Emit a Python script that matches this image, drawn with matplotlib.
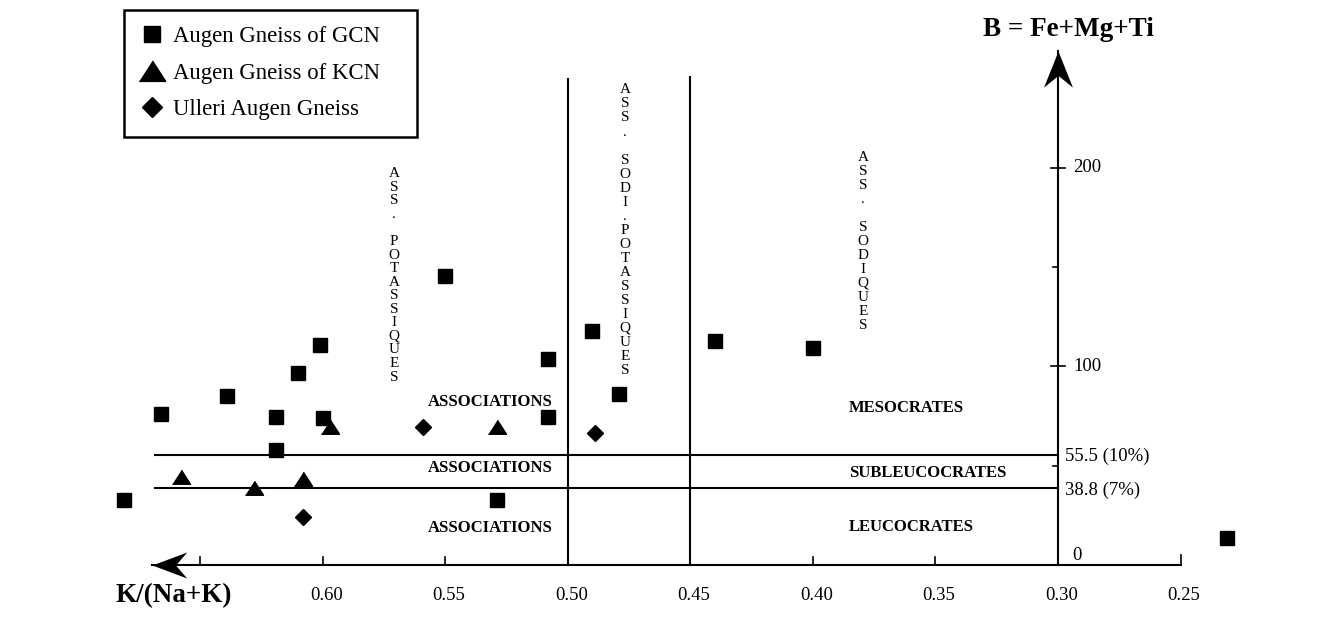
import matplotlib.pyplot as plt
from matplotlib.lines import Line2D

plt.rcParams['font.family'] = ['Liberation Serif', 'DejaVu Serif']

# K/(Na+K) and B = Fe+Mg+Ti for each group
gcn_k = [0.550, 0.601, 0.610, 0.639, 0.666, 0.619, 0.600, 0.619, 0.681,
         0.490, 0.508, 0.479, 0.508, 0.529, 0.440, 0.400, 0.231]
gcn_b = [145.6, 110.8, 96.7, 85.1, 76.1, 74.6, 74.1, 57.9, 32.7,
         117.9, 103.8, 86.1, 74.6, 32.7, 112.8, 109.3, 13.6]
kcn_k = [0.597, 0.529, 0.658, 0.628, 0.608]
kcn_b = [69.5, 69.5, 44.3, 38.8, 43.3]
ulleri_k = [0.559, 0.489, 0.608]
ulleri_b = [69.5, 66.5, 24.2]

x_ticks = [0.65, 0.60, 0.55, 0.50, 0.45, 0.40, 0.35, 0.30, 0.25]
x_tick_labels = ['', '0.60', '0.55', '0.50', '0.45', '0.40', '0.35', '0.30', '0.25']
b_limits = [55.5, 38.8]
b_limit_labels = ['55.5 (10%)', '38.8 (7%)']

# flat triangle and swept-back arrow head as marker paths
tri = [(-1, -0.75), (1, -0.75), (0, 0.8)]
head_left = [(0, 0), (2, 0.75), (1.35, 0), (2, -0.75)]
head_up = [(0, 0), (0.8, -2), (0, -1.35), (-0.8, -2)]

fig = plt.figure(figsize=(13.44, 6.19), dpi=100)
ax = fig.add_axes([0, 0, 1, 1])
ax.set_xlim(0.7317, 0.1833)
ax.set_ylim(-27.2, 284.6)
ax.axis('off')

lw = 1.5
x_left = 0.6696
# axes
ax.plot([x_left, 0.25], [0, 0], color='k', lw=lw)
ax.plot([0.30, 0.30], [0, 259], color='k', lw=lw)
ax.plot([x_left], [0], marker=head_left, ms=50, color='k', mew=0)
ax.plot([0.30], [259], marker=head_up, ms=52, color='k', mew=0)

# x ticks (pointing up)
for t, lab in zip(x_ticks, x_tick_labels):
    if t != 0.30:
        ax.plot([t, t], [0, 5 if t == 0.25 else 3.8], color='k', lw=1.2)
    if lab:
        ax.annotate(lab, (t, -15.5), xytext=(2.5, 0), textcoords='offset points',
                    ha='center', va='center', fontsize=13.5)

# y ticks
for v in [100, 200]:
    ax.plot([0.3029, 0.2971], [v, v], color='k', lw=1.2)
    ax.text(0.2937, v, str(v), ha='left', va='center', fontsize=13.5)
for v in [50, 150]:
    ax.plot([0.302, 0.30], [v, v], color='k', lw=1.2)
ax.text(0.2943, 5, '0', ha='left', va='center', fontsize=13.5)

# field boundaries
ax.plot([0.50, 0.50], [0, 245], color='k', lw=lw)
ax.plot([0.45, 0.45], [0, 246], color='k', lw=lw)
for v, lab in zip(b_limits, b_limit_labels):
    ax.plot([0.6686, 0.30], [v, v], color='k', lw=lw)
    ax.text(0.2971, v - 1, lab, ha='left', va='center', fontsize=13.5)

# field names
bold = dict(fontsize=12, fontweight='bold', va='center')
for y in [82.1, 48.9, 18.6]:
    ax.text(0.5317, y, 'ASSOCIATIONS', ha='center', **bold)
ax.text(0.3853, 79.1, 'MESOCRATES', ha='left', **bold)
ax.text(0.3853, 46.5, 'SUBLEUCOCRATES', ha='left', **bold)
ax.text(0.3853, 19.0, 'LEUCOCRATES', ha='left', **bold)

# stacked vertical words
def stacked(x, y, word, step=10.1):
    for i, ch in enumerate(word):
        ax.annotate(ch, (x, y), xytext=(0, -i * step), textcoords='offset points',
                    ha='center', va='center', fontsize=11)

stacked(0.5709, 197.0, 'ASS. POTASSIQUES', step=9.75)
stacked(0.4767, 239.3, 'ASS. SODI.POTASSIQUES')
stacked(0.3796, 205.5, 'ASS. SODIQUES')

# axis titles
ax.text(0.6607, -15.5, 'K/(Na+K)', ha='center', va='center', fontsize=19.5, fontweight='bold')
ax.text(0.2959, 269.5, 'B = Fe+Mg+Ti', ha='center', va='center', fontsize=19.5, fontweight='bold')

# samples
ax.plot(gcn_k, gcn_b, ls='none', marker='s', ms=10, color='k')
ax.plot(kcn_k, kcn_b, ls='none', marker=tri, ms=13, color='k')
ax.plot(ulleri_k, ulleri_b, ls='none', marker='D', ms=8.5, color='k')

handles = [Line2D([], [], ls='none', marker='s', ms=12, color='k'),
           Line2D([], [], ls='none', marker=tri, ms=19, color='k'),
           Line2D([], [], ls='none', marker='D', ms=10, color='k')]
labels = ['Augen Gneiss of GCN', 'Augen Gneiss of KCN', 'Ulleri Augen Gneiss']
leg = ax.legend(handles, labels, loc='upper left',
                bbox_to_anchor=(124 / 1344, 1 - 132 / 619, 293 / 1344, 122 / 619),
                bbox_transform=fig.transFigure, mode='expand', fancybox=False,
                edgecolor='black', framealpha=1, fontsize=16.4, handlelength=1.0,
                handletextpad=0.45, labelspacing=0.68, borderpad=0.72, borderaxespad=0)
leg.get_frame().set_linewidth(1.8)

fig.savefig('out.png', dpi=100)
